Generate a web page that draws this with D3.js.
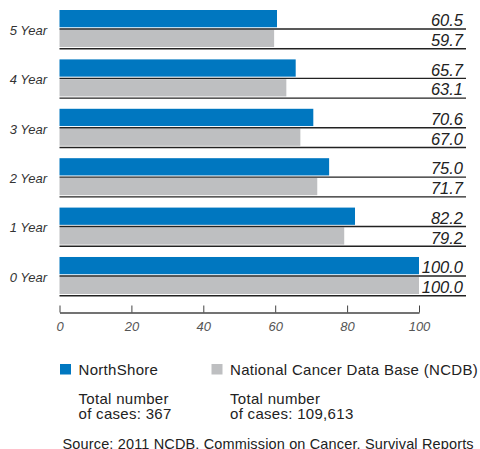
<!DOCTYPE html>
<html>
<head>
<meta charset="utf-8">
<script src="https://cdn.jsdelivr.net/npm/d3@7"></script>
<style>
  body { margin: 0; background: #fff; }
  svg { display: block; font-family: "Liberation Sans", Arial, Helvetica, sans-serif; }
</style>
</head>
<body>
<svg width="480" height="449"></svg>
<script>
// survival rates (%)
let years = ['5 Year', '4 Year', '3 Year', '2 Year', '1 Year', '0 Year']
let northShore = [60.5, 65.7, 70.6, 75.0, 82.2, 100.0]
let ncdb = [59.7, 63.1, 67.0, 71.7, 79.2, 100.0]
let seriesNames = ['NorthShore', 'National Cancer Data Base (NCDB)']
let caseCounts = ['367', '109,613']
let xTicks = [0, 20, 40, 60, 80, 100]

let colors = ['#0077c0', '#bebfc1']

let svg = d3.select('svg')

let x = d3.scaleLinear().domain([0, 100]).range([59.5, 419])
let y = d3.scaleBand().domain(years).range([10, 296.5]).paddingInner(0.2).paddingOuter(0)
let sub = d3.scaleBand().domain([0, 1]).range([0, y.bandwidth()])

let rows = years.map(function (yr, i) {
    return {year: yr, values: [northShore[i], ncdb[i]]}
})

let groups = svg.selectAll('g.row')
    .data(rows)
    .join('g')
    .attr('class', 'row')
    .attr('transform', function (d) {return 'translate(0,' + y(d.year) + ')'})

// bars
groups.selectAll('rect')
    .data(function (d) {return d.values})
    .join('rect')
    .attr('x', x(0))
    .attr('y', function (d, i) {return sub(i)})
    .attr('width', function (d) {return x(d) - x(0)})
    .attr('height', sub.bandwidth() - 2.5)
    .style('fill', function (d, i) {return colors[i]})

// rule under each bar
groups.selectAll('line')
    .data(function (d) {return d.values})
    .join('line')
    .attr('x1', x(0))
    .attr('x2', 466)
    .attr('y1', function (d, i) {return sub(i) + sub.bandwidth() - 0.8})
    .attr('y2', function (d, i) {return sub(i) + sub.bandwidth() - 0.8})
    .style('stroke', '#222')
    .style('stroke-width', 1.4)

// value labels
groups.selectAll('text.val')
    .data(function (d) {return d.values})
    .join('text')
    .attr('class', 'val')
    .attr('x', 463)
    .attr('y', function (d, i) {return sub(i) + sub.bandwidth() - 3.5})
    .attr('text-anchor', 'end')
    .style('font-size', '16.5px')
    .style('font-style', 'italic')
    .style('fill', '#222')
    .text(function (d) {return d.toFixed(1)})

// category labels
groups.append('text')
    .attr('x', 47)
    .attr('y', y.bandwidth() / 2 + 5)
    .attr('text-anchor', 'end')
    .style('font-size', '13px')
    .style('font-style', 'italic')
    .style('fill', '#333')
    .text(function (d) {return d.year})

// x axis
let axis = svg.append('g')
    .attr('transform', 'translate(0,312.5)')
    .call(d3.axisBottom(x).tickValues(xTicks).tickSize(-7).tickSizeOuter(0).tickPadding(9))
axis.select('.domain').style('stroke', '#444').style('stroke-width', 1.4)
axis.selectAll('.tick line').style('stroke', '#444')
axis.selectAll('.tick text')
    .style('font-family', '"Liberation Sans", Arial, sans-serif')
    .style('font-size', '13px')
    .style('font-style', 'italic')
    .style('fill', '#555')

// legend
let legendX = [60, 211.5]
let legend = svg.selectAll('g.legend')
    .data(seriesNames)
    .join('g')
    .attr('class', 'legend')
    .attr('transform', function (d, i) {return 'translate(' + legendX[i] + ',0)'})

legend.append('rect')
    .attr('x', 0)
    .attr('y', 364)
    .attr('width', 11)
    .attr('height', 10.5)
    .style('fill', function (d, i) {return colors[i]})

function legendText(sel) {
    sel.attr('x', 18.5)
        .style('font-size', '15px')
        .style('letter-spacing', '0.3px')
        .style('fill', '#222')
}

legend.append('text')
    .call(legendText)
    .attr('y', 375)
    .text(function (d) {return d})

legend.append('text')
    .call(legendText)
    .attr('y', 403.5)
    .text('Total number')

legend.append('text')
    .call(legendText)
    .attr('y', 418.5)
    .text(function (d, i) {return 'of cases: ' + caseCounts[i]})

svg.append('text')
    .attr('x', 62.5)
    .attr('y', 448.5)
    .style('font-size', '14.5px')
    .style('letter-spacing', '0.15px')
    .style('fill', '#222')
    .text('Source: 2011 NCDB, Commission on Cancer, Survival Reports')
</script>
</body>
</html>
